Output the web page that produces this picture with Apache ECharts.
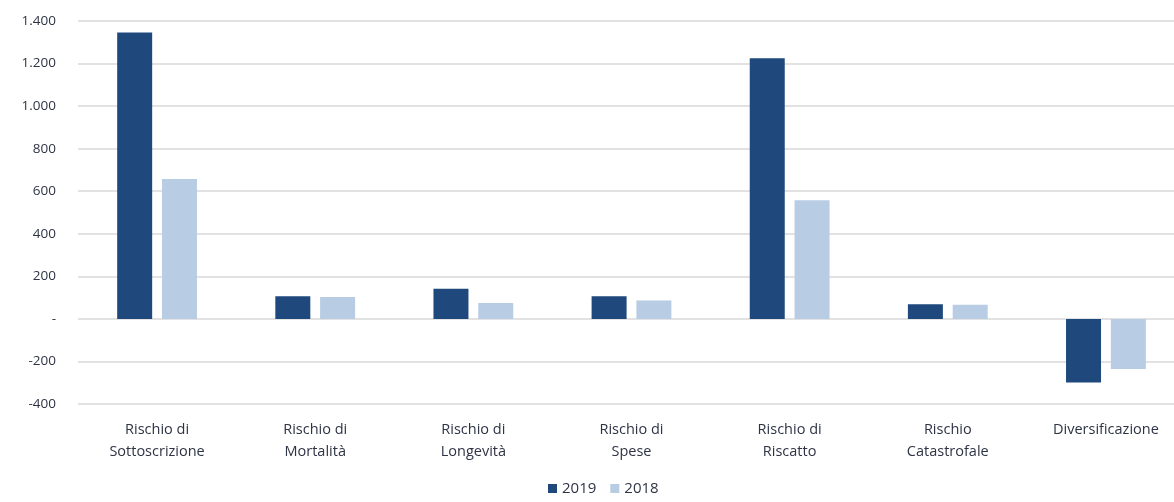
<!DOCTYPE html>
<html>
<head>
<meta charset="utf-8">
<script src="https://cdn.jsdelivr.net/npm/echarts@6/dist/echarts.min.js"></script>
<style>
  html, body { margin: 0; padding: 0; background: #fff; }
  #chart { width: 1174px; height: 502px; }
</style>
</head>
<body>
<div id="chart"></div>
<script>
// categorie e valori
const categories = [
  'Rischio di\nSottoscrizione',
  'Rischio di\nMortalità',
  'Rischio di\nLongevità',
  'Rischio di\nSpese',
  'Rischio di\nRiscatto',
  'Rischio\nCatastrofale',
  'Diversificazione'
];
const values2019 = [1346, 106, 142, 106, 1225, 69, -299];
const values2018 = [657, 103, 75, 86, 557, 67, -235];
const seriesNames = ['2019', '2018'];

const chart = echarts.init(document.getElementById('chart'));

function fmt(v) {
  if (v === 0) return '-';
  const s = Math.abs(v).toString().replace(/\B(?=(\d{3})+(?!\d))/g, '.');
  return (v < 0 ? '-' : '') + s;
}

chart.setOption({
  animation: false,
  textStyle: { fontFamily: 'Open Sans' },
  grid: { left: 78, right: -11, top: 21, bottom: 98, containLabel: false, outerBoundsMode: 'none' },
  legend: {
    bottom: 1,
    left: 543,
    itemWidth: 9,
    itemHeight: 9,
    itemGap: 14,
    icon: 'rect',
    textStyle: { color: '#2e3445', fontSize: 15 },
    data: seriesNames
  },
  xAxis: {
    type: 'category',
    data: categories,
    axisLine: { show: false },
    axisTick: { show: false },
    axisLabel: {
      color: '#2e3445',
      fontSize: 14.5,
      lineHeight: 22,
      margin: 15,
      interval: 0
    }
  },
  yAxis: {
    type: 'value',
    min: -400,
    max: 1400,
    interval: 200,
    axisLine: { show: false },
    axisTick: { show: false },
    splitLine: { lineStyle: { color: '#d9d9d9', width: 1.5 } },
    axisLabel: {
      color: '#2e3445',
      fontSize: 13.5,
      margin: 22,
      formatter: fmt
    }
  },
  series: [
    {
      name: seriesNames[0],
      type: 'bar',
      data: values2019,
      barWidth: 35,
      barGap: '28%',
      itemStyle: { color: '#1f497d' }
    },
    {
      name: seriesNames[1],
      type: 'bar',
      data: values2018,
      barWidth: 35,
      itemStyle: { color: '#b8cce4' }
    }
  ]
});
</script>
</body>
</html>
